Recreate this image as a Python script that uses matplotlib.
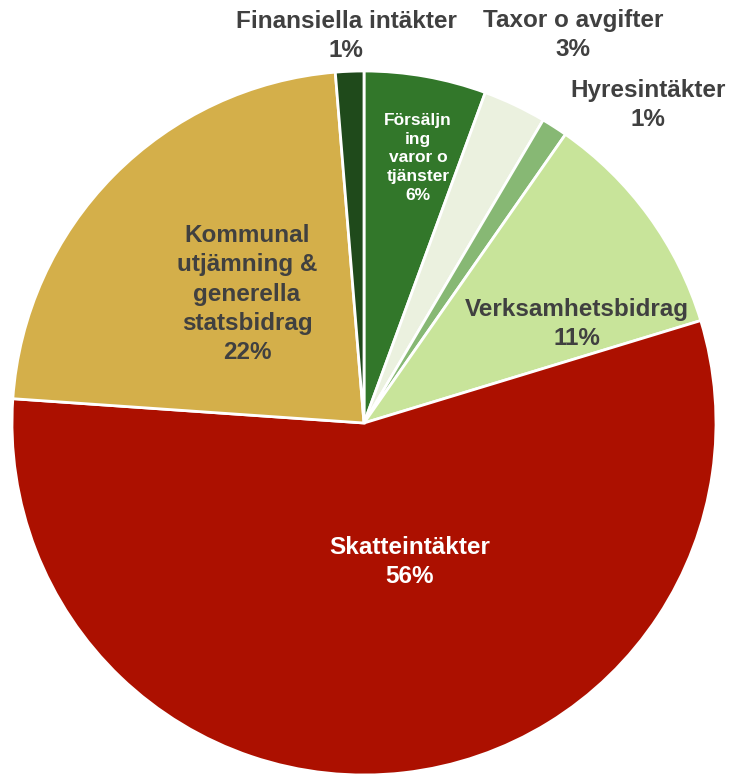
import matplotlib
matplotlib.use("Agg")
import matplotlib.pyplot as plt

categories = ["Försäljn\ning\nvaror o\ntjänster", "Taxor o avgifter", "Hyresintäkter",
              "Verksamhetsbidrag", "Skatteintäkter",
              "Kommunal\nutjämning &\ngenerella\nstatsbidrag", "Finansiella intäkter"]
values = [5.6, 2.9, 1.2, 10.6, 55.8, 22.6, 1.3]
pct_labels = ["6%", "3%", "1%", "11%", "56%", "22%", "1%"]
colors = ["#32772A", "#EBF1DF", "#87B874", "#C8E49A", "#AC1000", "#D4AF4A", "#1F4A1B"]

# label layout (image pixel coords, y from top)
label_pos = [(418, 158), (573, 35), (648, 105), (577, 324), (410, 562), (247, 294), (346, 36)]
label_color = ["white", "#404040", "#404040", "#404040", "white", "#404040", "#404040"]
label_size = [12.5, 17.5, 17.5, 17.5, 17.5, 17.5, 17.5]

W, H = 730, 774
fig = plt.figure(figsize=(W / 100, H / 100), dpi=100)
ax = fig.add_axes([0, 0, 1, 1])

ax.pie(values, colors=colors, startangle=90, counterclock=False,
       center=(364, H - 423), radius=352, frame=True,
       wedgeprops=dict(edgecolor="white", linewidth=2))
ax.set_xlim(0, W)
ax.set_ylim(0, H)
ax.set_aspect("equal")
ax.axis("off")

for cat, p, (x, y), c, s in zip(categories, pct_labels, label_pos, label_color, label_size):
    ax.text(x, H - y, f"{cat}\n{p}", ha="center", va="center", color=c,
            fontsize=s, fontweight="bold", family=["Liberation Sans", "DejaVu Sans"],
            linespacing=1.3 if s < 14 else 1.35)

fig.savefig("out.png", dpi=100)
